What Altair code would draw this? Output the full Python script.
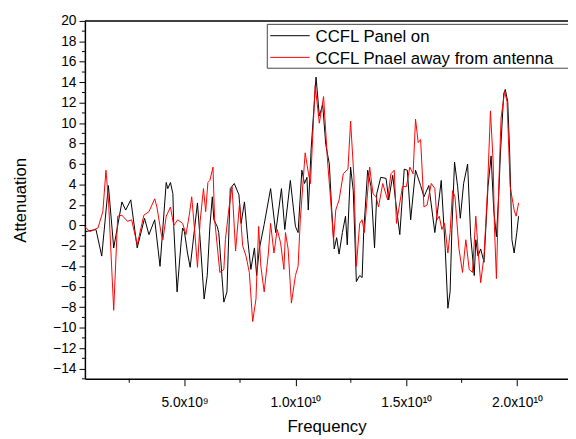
import altair as alt
import pandas as pd

# ---- data (frequency in GHz, attenuation) ----
series_names = ["CCFL Panel on", "CCFL Pnael away from antenna"]
series_colors = ["#000000", "#ff0000"]

on_freq_ghz = [0.54, 1.00, 1.26, 1.56, 1.80, 2.17, 2.34, 2.57, 2.86, 3.19, 3.39, 3.65, 3.89, 4.17, 4.24,
               4.36, 4.47, 4.51, 4.66, 4.84, 4.91, 4.99, 5.13, 5.25, 5.36, 5.58, 5.70, 5.88, 6.02, 6.14,
               6.25, 6.32, 6.47, 6.54, 6.77, 6.91, 7.06, 7.24, 7.45, 7.55, 7.70, 7.85, 7.99, 8.15, 8.25,
               8.37, 8.59, 8.88, 9.11, 9.37, 9.52, 9.77, 10.00, 10.12, 10.29, 10.41, 10.52, 10.58, 10.71,
               10.93, 11.08, 11.23, 11.37, 11.53, 11.63, 11.75, 11.86, 11.97, 12.12, 12.26, 12.34, 12.49,
               12.61, 12.75, 12.90, 13.01, 13.08, 13.26, 13.41, 13.57, 13.67, 13.85, 14.09, 14.21, 14.39,
               14.53, 14.71, 14.91, 15.05, 15.20, 15.42, 15.65, 15.80, 16.02, 16.29, 16.46, 16.58, 16.76,
               16.88, 16.98, 17.06, 17.18, 17.32, 17.44, 17.59, 17.77, 17.91, 18.07, 18.14, 18.24, 18.36,
               18.51, 18.69, 18.83, 18.95, 19.07, 19.18, 19.25, 19.40, 19.47, 19.58, 19.67, 19.77, 19.87,
               19.99, 20.07]
on_att = [-0.6, -0.4, -3.0, 3.9, -2.2, 2.3, 1.5, 2.5, -2.2, 0.7, -0.9, 0.55, -4.0, 4.2, 3.6,
          4.2, 3.1, -0.1, -6.5, -1.7, -0.25, -0.6, -2.7, -4.1, -2.0, 2.2, -1.4, -7.2, -4.9, -0.1,
          2.8, 0.55, -0.1, -0.7, -7.5, -6.5, 3.6, 4.1, 3.0, 0.2, 2.3, -1.4, -4.3, -2.2, -4.9,
          -2.3, 0.1, 3.6, -0.7, 3.6, -0.4, 4.4, -0.1, -0.7, 5.4, 4.1, 4.7, 1.5, 7.5,
          14.5, 10.7, 11.8, 7.9, 6.0, 1.8, -2.3, -1.2, -2.8, -0.7, 0.9, -1.9, 5.7,
          3.4, -5.5, -4.9, -5.1, -0.7, 5.4, 3.8, -2.2, 3.1, 4.7, 4.6, 2.5, 4.9,
          2.2, -0.9, 5.5, 5.4, 0.55, 5.4, 3.9, 2.8, 3.9, -0.7, 2.2, 4.4, -2.3,
          -8.1, -6.5, -0.4, 6.2, 3.8, 0.7, 4.1, 6.0, -1.1, -4.9, -1.4, -3.0, -2.3,
          -3.6, 3.8, 6.8, 1.5, -1.1, 3.3, 7.0, 12.9, 13.3, 12.1, 7.0, -1.4, -2.7,
          -0.7, 0.9]

away_freq_ghz = [0.49, 0.72, 1.09, 1.31, 1.45, 1.57, 1.80, 1.98, 2.17, 2.42, 2.61, 2.86, 3.16, 3.39, 3.65,
                 3.75, 3.95, 4.02, 4.17, 4.36, 4.51, 4.69, 4.91, 5.06, 5.21, 5.32, 5.46, 5.58, 5.70, 5.85,
                 5.95, 6.05, 6.14, 6.28, 6.35, 6.59, 6.77, 6.84, 6.99, 7.14, 7.30, 7.48, 7.62, 7.77, 7.92,
                 8.07, 8.22, 8.34, 8.44, 8.59, 8.78, 8.88, 9.03, 9.18, 9.33, 9.48, 9.55, 9.67, 9.82, 10.00,
                 10.12, 10.22, 10.44, 10.59, 10.68, 10.89, 11.08, 11.27, 11.45, 11.60, 11.72, 11.82, 11.97,
                 12.16, 12.37, 12.49, 12.64, 12.75, 12.90, 13.01, 13.11, 13.35, 13.50, 13.64, 13.75, 13.94,
                 14.16, 14.31, 14.46, 14.56, 14.68, 14.83, 15.01, 15.16, 15.31, 15.42, 15.54, 15.65, 15.80,
                 15.94, 16.13, 16.29, 16.39, 16.49, 16.61, 16.73, 16.88, 16.98, 17.09, 17.20, 17.38, 17.54,
                 17.69, 17.84, 17.99, 18.14, 18.24, 18.36, 18.51, 18.66, 18.80, 18.92, 18.98, 19.07, 19.18,
                 19.28, 19.44, 19.55, 19.69, 19.87, 19.96, 20.07]
away_att = [-0.1, -0.6, -0.25, 1.35, 5.4, 2.2, -8.3, 0.9, 1.0, 0.4, 0.55, -1.9, 1.0, 1.35, 2.6,
            1.8, -0.9, -1.4, 0.9, 1.8, 0.0, 0.55, 0.2, -0.9, 1.0, 2.8, -0.7, -4.1, 0.4, 3.6,
            1.35, 4.2, 4.4, 5.7, 0.7, -4.6, -4.3, -1.4, 1.5, 3.8, -2.5, 2.2, -2.0, -3.0, -4.6,
            -9.4, -7.2, -0.1, -4.0, -6.5, -2.7, 0.2, -2.7, -0.4, -1.7, -4.3, -0.7, -2.3, -7.6, -4.9,
            -4.0, 0.55, 7.1, 5.05, 4.1, 13.7, 10.0, 12.6, 6.3, 2.2, -1.5, 1.5, 2.5,
            5.05, 5.5, 10.2, 4.7, -4.0, 0.2, 0.55, -0.7, 5.7, 3.1, 2.8, 1.8, 4.1,
            2.5, 5.05, 5.4, 0.2, 1.8, 3.8, 3.8, 5.7, 5.05, 10.4, 8.1, 8.4, 1.8,
            2.0, 4.1, 3.6, 0.55, 0.9, -0.4, 0.2, -2.7, -0.7, 3.4, 2.8, -2.3, -4.6,
            -1.4, -4.3, -4.6, 0.9, -2.3, -5.6, -3.0, 3.1, 11.2, 6.3, -0.1, -5.2, 4.1,
            10.5, 13.1, 12.1, 3.8, 1.5, 0.9, 2.2]

x_major_ticks = [5e9, 1e10, 1.5e10, 2e10]
x_major_labels = ["5.0x10\u2079", "1.0x10\u00b9\u2070", "1.5x10\u00b9\u2070", "2.0x10\u00b9\u2070"]
x_minor_ticks = [2.5e9, 7.5e9, 1.25e10, 1.75e10]
y_major_ticks = list(range(-14, 21, 2))
y_minor_ticks = list(range(-15, 20, 2))

# ---- tables ----
df = pd.concat([
    pd.DataFrame({"freq": [f * 1e9 for f in on_freq_ghz], "att": on_att, "series": series_names[0]}),
    pd.DataFrame({"freq": [f * 1e9 for f in away_freq_ghz], "att": away_att, "series": series_names[1]}),
], ignore_index=True)

W, H = 490, 363
FONT = "Liberation Sans"

label_expr = " : ".join(
    f"datum.value == {v!r} ? '{l}'" for v, l in zip(x_major_ticks, x_major_labels)
) + " : ''"

xscale = alt.Scale(domain=[0.5e9, 22.3e9], nice=False, zero=False)
yscale = alt.Scale(domain=[-15, 20], nice=False, zero=False)

x_axis = alt.Axis(values=x_major_ticks, labelExpr=label_expr, tickSize=7,
                  labelPadding=10, title="Frequency", titlePadding=9,
                  grid=False, labelFlush=False, labelOverlap=False)
y_axis = alt.Axis(values=y_major_ticks, tickSize=6, labelPadding=3,
                  title="Attenuation", titlePadding=24, grid=False)

lines = alt.Chart(df).mark_line(strokeWidth=1).encode(
    x=alt.X("freq:Q", scale=xscale, axis=x_axis),
    y=alt.Y("att:Q", scale=yscale, axis=y_axis),
    color=alt.Color("series:N", scale=alt.Scale(domain=series_names, range=series_colors),
                    legend=None, sort=series_names),
)

xminor = alt.Chart(pd.DataFrame({"freq": x_minor_ticks})).mark_rule(color="black", strokeWidth=1).encode(
    x=alt.X("freq:Q", scale=xscale, axis=x_axis),
    y=alt.value(H), y2=alt.value(H + 4),
)
yminor = alt.Chart(pd.DataFrame({"att": y_minor_ticks})).mark_rule(color="black", strokeWidth=1).encode(
    y=alt.Y("att:Q", scale=yscale, axis=y_axis),
    x=alt.value(-3), x2=alt.value(0),
)
top_line = alt.Chart(pd.DataFrame({"a": [0]})).mark_rule(color="black", strokeWidth=1.5).encode(
    x=alt.value(0), x2=alt.value(W + 5), y=alt.value(0),
)

legend_box = alt.Chart(pd.DataFrame({"a": [0]})).mark_rect(
    fill="white", stroke="#444444", strokeWidth=1).encode(
    x=alt.value(185), x2=alt.value(520), y=alt.value(3.5), y2=alt.value(48),
)
leg_layers = []
for i, (name, col) in enumerate(zip(series_names, series_colors)):
    yy = 15 + 22 * i
    ld = pd.DataFrame({"name": [name]})
    leg_layers.append(alt.Chart(ld).mark_rule(color=col, strokeWidth=1).encode(
        x=alt.value(188), x2=alt.value(228), y=alt.value(yy)))
    leg_layers.append(alt.Chart(ld).mark_text(
        align="left", baseline="alphabetic", font=FONT, fontSize=17, color="black").encode(
        x=alt.value(234), y=alt.value(yy + 6.5), text="name:N"))

chart = alt.layer(lines, xminor, yminor, top_line, legend_box, *leg_layers).properties(
    width=W, height=H,
    autosize=alt.AutoSizeParams(type="none"),
    padding={"left": 78, "top": 10, "right": 0, "bottom": 60},
).configure_view(stroke=None).configure_axis(
    domainColor="black", domainWidth=1.5, tickColor="black", tickWidth=1,
    labelColor="black", titleColor="black", labelFont=FONT, titleFont=FONT,
    labelFontSize=14, titleFontSize=17, titleFontWeight="normal",
)

chart.save("out.html", embed_options={"renderer": "svg", "actions": False})
